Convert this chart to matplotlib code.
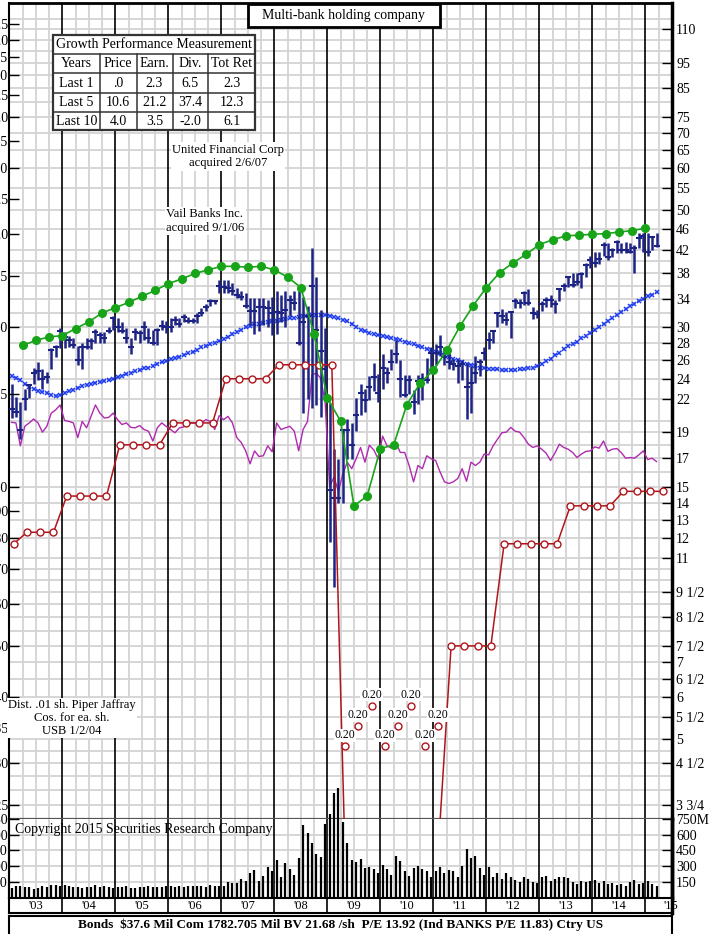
import numpy as np
import matplotlib
matplotlib.use('Agg')
import matplotlib.pyplot as plt
import matplotlib.transforms as mtransforms
from matplotlib.patches import Rectangle
from matplotlib.ticker import NullLocator

plt.rcParams['font.family'] = ['Liberation Serif', 'DejaVu Serif']

W, H, DPI = 722, 934, 100

# ---- monthly data, Jan 2003 .. Mar 2015 ----
price_hi = [23.5, 22.2, 21.7, 23.0, 23.5, 25.2, 25.8, 25.0, 24.7, 27.4, 27.8, 29.9,
            29.4, 28.9, 28.7, 27.7, 28.0, 28.6, 28.6, 29.8, 29.4, 29.4, 30.0, 31.6,
            31.2, 30.7, 29.9, 28.7, 29.9, 29.7, 30.9, 29.9, 29.7, 29.9, 31.0, 30.9,
            31.2, 31.6, 31.2, 31.8, 31.4, 31.2, 32.0, 32.6, 33.3, 34.0, 33.8, 36.9,
            36.9, 36.9, 36.4, 35.6, 35.1, 34.9, 34.1, 34.1, 34.1, 34.1, 33.8, 34.3,
            35.1, 34.6, 35.1, 34.6, 35.1, 35.1, 34.3, 33.0, 42.4, 37.4, 32.4, 29.9,
            21.6, 17.7, 16.9, 19.2, 20.1, 19.8, 22.1, 23.5, 23.0, 24.3, 25.7, 24.5,
            26.7, 25.3, 27.3, 28.4, 26.0, 24.4, 24.4, 22.9, 24.4, 24.6, 26.3, 27.5,
            27.9, 29.0, 27.6, 27.1, 26.2, 26.2, 26.0, 25.7, 25.4, 26.5, 26.1, 27.6,
            29.4, 29.7, 32.1, 32.5, 32.1, 32.1, 34.1, 34.0, 35.1, 35.4, 32.8, 32.4,
            33.6, 34.3, 34.5, 33.8, 35.7, 36.4, 37.6, 38.0, 38.0, 38.2, 39.7, 41.0,
            41.7, 41.6, 43.6, 43.3, 42.4, 43.9, 43.3, 43.5, 43.3, 43.0, 45.2, 45.2,
            45.2, 44.4, 45.2]
price_lo = [20.2, 20.3, 18.5, 20.9, 22.1, 23.5, 23.9, 23.0, 23.6, 25.0, 26.4, 27.4,
            27.4, 27.5, 27.4, 25.5, 25.0, 27.3, 27.3, 28.0, 28.0, 28.1, 29.3, 29.7,
            29.4, 29.3, 28.1, 26.7, 28.4, 28.0, 28.4, 28.1, 27.8, 27.8, 29.7, 29.3,
            29.4, 30.3, 30.0, 30.7, 30.6, 30.6, 30.6, 31.6, 32.3, 33.0, 33.3, 34.9,
            34.9, 34.9, 34.6, 34.1, 33.8, 32.6, 30.3, 29.1, 29.6, 30.3, 30.0, 29.0,
            29.1, 30.7, 30.0, 31.5, 32.4, 27.8, 20.7, 22.0, 21.1, 21.4, 20.3, 21.9,
            11.8, 9.7, 14.0, 14.0, 16.9, 16.9, 19.1, 20.5, 20.8, 21.9, 22.8, 21.7,
            23.0, 23.6, 24.9, 25.7, 22.2, 22.2, 22.5, 20.6, 21.5, 21.9, 23.6, 25.0,
            25.5, 26.5, 25.5, 25.0, 24.9, 23.6, 23.9, 20.1, 20.7, 23.6, 24.3, 26.0,
            27.3, 28.1, 30.0, 30.6, 30.3, 28.6, 32.7, 32.6, 33.1, 33.1, 31.1, 31.3,
            32.2, 32.8, 32.8, 32.0, 33.6, 35.1, 35.8, 35.8, 36.1, 35.6, 37.4, 38.8,
            39.1, 39.6, 40.9, 40.3, 40.8, 41.5, 41.5, 41.5, 41.5, 38.0, 42.4, 41.7,
            40.9, 42.0, 42.6]
price_close = [21.0, 20.8, 19.2, 22.0, 23.4, 24.6, 24.8, 24.0, 24.2, 27.2, 27.6, 29.6,
               28.8, 28.4, 27.8, 26.0, 27.5, 27.6, 28.3, 29.4, 29.0, 28.7, 29.6, 31.3,
               30.0, 29.6, 28.6, 27.6, 29.4, 29.3, 30.0, 28.7, 28.1, 29.7, 30.2, 30.0,
               30.0, 31.0, 30.5, 31.4, 30.9, 30.9, 31.5, 32.0, 32.8, 33.7, 33.6, 36.0,
               35.8, 35.6, 35.1, 34.6, 34.3, 32.9, 32.2, 32.2, 32.8, 32.8, 32.6, 32.0,
               32.1, 32.0, 32.4, 33.8, 33.4, 28.0, 30.7, 31.5, 36.0, 29.7, 27.1, 25.0,
               14.8, 14.3, 14.3, 19.2, 19.2, 18.0, 20.5, 22.6, 21.9, 23.2, 24.2, 22.6,
               25.1, 24.6, 25.8, 26.7, 24.0, 22.4, 23.9, 21.7, 23.8, 24.0, 23.9, 26.9,
               26.9, 27.5, 26.4, 25.8, 25.6, 25.4, 25.6, 23.2, 23.6, 24.6, 25.8, 26.9,
               28.4, 29.5, 32.0, 31.5, 31.0, 32.1, 33.6, 33.4, 34.9, 33.4, 32.0, 31.8,
               33.2, 33.8, 33.8, 33.2, 35.4, 36.0, 37.3, 36.1, 36.5, 37.8, 39.4, 40.2,
               39.8, 40.4, 43.0, 40.8, 42.0, 43.5, 42.0, 42.0, 41.7, 42.4, 44.2, 44.6,
               41.7, 44.4, 42.8]
volume = [90, 110, 115, 105, 100, 85, 95, 115, 105, 120, 125, 115,
          120, 110, 105, 100, 95, 100, 100, 120, 100, 110, 105, 95,
          105, 100, 115, 90, 95, 100, 100, 110, 100, 105, 100, 110,
          110, 100, 110, 105, 115, 110, 115, 110, 100, 120, 115, 110,
          110, 150, 140, 135, 180, 160, 230, 260, 160, 210, 290, 250,
          360, 200, 330, 270, 220, 380, 690, 620, 520, 420, 390, 700,
          800, 1000, 1050, 720, 520, 360, 340, 370, 280, 290, 270, 230,
          310, 270, 220, 400, 350, 250, 210, 280, 300, 270, 250, 200,
          250, 290, 230, 260, 250, 200, 300, 460, 380, 400, 280, 220,
          290, 200, 230, 180, 230, 200, 170, 150, 200, 180, 150, 140,
          200, 210, 160, 180, 200, 200, 190, 150, 130, 160, 150, 160,
          170, 140, 160, 130, 140, 120, 130, 110, 150, 170, 130, 140,
          160, 130, 110]
rel_strength = [19.85, 19.80, 17.92, 19.51, 19.80, 20.14, 19.80, 19.02, 19.51, 20.66, 20.96, 21.41,
                20.02, 19.93, 19.80, 18.57, 19.93, 19.38, 20.37, 21.41, 20.66, 20.23, 20.28, 20.66,
                20.08, 19.66, 19.80, 19.42, 19.38, 19.57, 19.24, 19.10, 18.30, 19.38, 19.80, 19.51,
                19.24, 18.97, 19.38, 19.46, 19.80, 19.80, 19.80, 19.85, 20.08, 19.93, 19.24, 20.43,
                20.08, 20.37, 19.80, 18.57, 18.18, 17.53, 16.57, 17.53, 17.11, 17.16, 17.92, 17.46,
                19.80, 19.24, 19.38, 19.51, 19.10, 17.53, 19.24, 19.93, 24.41, 24.58, 24.05, 21.57,
                15.00, 15.64, 14.68, 15.87, 16.69, 16.22, 16.93, 17.79, 16.69, 17.97, 17.60, 16.93,
                18.69, 17.92, 17.74, 18.18, 17.41, 17.41, 16.45, 15.32, 16.45, 16.22, 17.16, 16.93,
                16.81, 15.99, 15.32, 15.21, 15.32, 15.54, 16.22, 15.36, 16.69, 16.45, 16.69, 17.29,
                17.23, 17.92, 18.43, 18.97, 19.02, 19.42, 19.10, 19.02, 18.57, 18.05, 17.79, 17.92,
                17.66, 17.36, 16.81, 17.36, 18.05, 17.79, 17.66, 17.41, 17.03, 17.29, 17.49, 17.53,
                17.84, 17.74, 18.30, 17.49, 17.66, 17.71, 17.41, 16.98, 17.03, 16.98, 17.23, 17.53,
                16.88, 16.98, 16.74]
moving_avg = [24.3, 24.1, 23.9, 23.5, 23.2, 23.0, 22.8, 22.7, 22.6, 22.4, 22.3, 22.4,
              22.6, 22.8, 22.9, 23.1, 23.3, 23.4, 23.5, 23.6, 23.7, 23.8, 23.9, 24.0,
              24.2, 24.3, 24.5, 24.6, 24.8, 24.9, 25.1, 25.2, 25.4, 25.6, 25.8, 25.9,
              26.1, 26.3, 26.4, 26.6, 26.8, 27.0, 27.2, 27.5, 27.7, 27.9, 28.1, 28.3,
              28.5, 28.8, 29.1, 29.4, 29.7, 30.0, 30.2, 30.4, 30.5, 30.6, 30.7, 30.9,
              30.9, 31.0, 31.1, 31.2, 31.3, 31.4, 31.5, 31.6, 31.7, 31.7, 31.7, 31.7,
              31.6, 31.4, 31.2, 31.0, 30.8, 30.4, 30.1, 29.7, 29.5, 29.3, 29.1, 29.0,
              28.9, 28.8, 28.7, 28.5, 28.4, 28.2, 28.0, 27.9, 27.7, 27.5, 27.3, 27.2,
              27.0, 26.8, 26.6, 26.4, 26.2, 26.0, 25.8, 25.6, 25.5, 25.4, 25.2, 25.1,
              25.0, 25.0, 25.0, 24.9, 24.9, 24.9, 24.9, 25.0, 25.0, 25.1, 25.2, 25.4,
              25.6, 25.9, 26.2, 26.6, 26.9, 27.3, 27.7, 27.9, 28.2, 28.6, 28.9, 29.3,
              29.7, 30.1, 30.5, 30.9, 31.3, 31.7, 32.1, 32.5, 32.9, 33.3, 33.7, 34.0,
              34.4, 34.6, 35.0]

# ---- quarterly earnings (left scale), from Apr 2003 ----
eps = [1.85, 1.89, 1.92, 1.93, 1.99, 2.05, 2.13, 2.18, 2.23, 2.29, 2.35, 2.42,
       2.47, 2.53, 2.57, 2.61, 2.61, 2.60, 2.61, 2.57, 2.49, 2.38, 1.94, 1.47,
       1.33, 0.92, 0.96, 1.18, 1.20, 1.43, 1.57, 1.66, 1.81, 2.01, 2.20, 2.38,
       2.54, 2.65, 2.75, 2.87, 2.93, 2.98, 2.99, 3.00, 3.01, 3.03, 3.05, 3.08]
# ---- annual dividend rate (left scale), quarterly from Feb 2003 ----
dividend = [0.78, 0.82, 0.82, 0.82, 0.96, 0.96, 0.96, 0.96, 1.20, 1.20, 1.20, 1.20,
            1.32, 1.32, 1.32, 1.32, 1.60, 1.60, 1.60, 1.60, 1.70, 1.70, 1.70, 1.70,
            1.70, 0.20, 0.20, 0.20, 0.20, 0.20, 0.20, 0.20, 0.20, 0.50, 0.50, 0.50,
            0.50, 0.78, 0.78, 0.78, 0.78, 0.78, 0.92, 0.92, 0.92, 0.92, 0.98, 0.98,
            0.98, 0.98]

right_vals = [110, 95, 85, 75, 70, 65, 60, 55, 50, 46, 42, 38, 34, 30, 28, 26, 24, 22,
              19, 17, 15, 14, 13, 12, 11, 9.5, 8.5, 7.5, 7, 6.5, 6, 5.5, 5, 4.5, 3.75]
right_labels = ['110', '95', '85', '75', '70', '65', '60', '55', '50', '46', '42', '38',
                '34', '30', '28', '26', '24', '22', '19', '17', '15', '14', '13', '12',
                '11', '9 1/2', '8 1/2', '7 1/2', '7', '6 1/2', '6', '5 1/2', '5',
                '4 1/2', '3 3/4']
left_vals = [7.5, 7.0, 6.5, 6.0, 5.5, 5.0, 4.5, 4.0, 3.5, 3.0, 2.5, 2.0, 1.5, 1.0,
             0.9, 0.8, 0.7, 0.6, 0.5, 0.4, 0.35, 0.3, 0.25]
left_labels = ['7.5', '7.0', '6.5', '6.0', '5.5', '5.0', '4.5', '4.0', '3.5', '3.0',
               '2.5', '2.0', '1.5', '1.0', '.90', '.80', '.70', '.60', '.50', '.40',
               '.35', '.30', '.25']
grid_vals = [115, 110, 105, 100, 95, 90, 85, 80, 75, 70, 65, 60, 55, 50, 46, 42, 40,
             38, 36, 34, 32, 30, 28, 26, 24, 22, 20, 19, 18, 17, 16, 15, 14, 13, 12,
             11, 10.5, 10, 9.5, 9, 8.5, 8, 7.5, 7, 6.5, 6, 5.5, 5, 4.75, 4.5, 4.25,
             4, 3.75]
vol_vals = [150, 300, 450, 600, 750]
year_labels = ["'03", "'04", "'05", "'06", "'07", "'08", "'09", "'10", "'11", "'12",
               "'13", "'14", "'15"]
perf_rows = [['Years', 'Price', 'Earn.', 'Div.', 'Tot Ret'],
             ['Last 1', '.0', '2.3', '6.5', '2.3'],
             ['Last 5', '10.6', '21.2', '37.4', '12.3'],
             ['Last 10', '4.0', '3.5', '-2.0', '6.1']]

PRICE_LO, PRICE_HI, PE = 3.53, 123.2, 15.0
X0, X1 = 2003.0, 2015.5

NAVY = '#1c2384'
GREEN = '#18a418'
BLUE = '#1f3cf0'
MAGENTA = '#b02ab0'
RED = '#b0151a'
GRID = '#d3d3d3'


def rect(x0, y0, x1, y1):
    return [x0 / W, 1 - y1 / H, (x1 - x0) / W, (y1 - y0) / H]


def px(x, y):
    return x / W, 1 - y / H


xm = X0 + (np.arange(len(price_hi)) + 0.5) / 12
xq = X0 + 0.25 * (np.arange(len(eps)) + 1)
xd = X0 + 1 / 12 + 0.25 * np.arange(len(dividend))
years = np.arange(2004, 2016)
quarters = np.array([y + q for y in range(2003, 2016) for q in (0.25, 0.5, 0.75)])

fig = plt.figure(figsize=(W / DPI, H / DPI), dpi=DPI)

# ---------- price panel ----------
ax = fig.add_axes(rect(9.3, 3, 672, 819))
ax.set_yscale('log')
ax.set_xlim(X0, X1)
ax.set_ylim(PRICE_LO, PRICE_HI)
for g in grid_vals:
    ax.axhline(g, color=GRID, lw=1.3, zorder=0.5)
for q in quarters:
    ax.axvline(q, color=GRID, lw=1.3, zorder=0.5)
for y in years:
    ax.axvline(y, color='black', lw=1.2, zorder=0.6)

ax.plot(xm, rel_strength, color=MAGENTA, lw=1.0, zorder=2)
ax.plot(xm, moving_avg, color=BLUE, lw=0.8, ls=':', marker='x', ms=3.2, mew=1.1, zorder=2.2)
ax.vlines(xm, price_lo, price_hi, color=NAVY, lw=1.8, zorder=3)
ax.plot(xm, price_close, ls='none', marker='_', ms=5, mew=1.5, color=NAVY, zorder=3.1)

ax.set_xticks([])
ax.yaxis.tick_right()
ax.yaxis.set_minor_locator(NullLocator())
ax.set_yticks(right_vals)
ax.set_yticklabels(right_labels)
ax.tick_params(axis='y', direction='in', length=7, width=1, labelsize=10, pad=3,
               colors='black')
ax.spines['left'].set_linewidth(1.5)
ax.spines['right'].set_linewidth(2.5)
ax.spines['top'].set_linewidth(2.0)
ax.spines['bottom'].set_linewidth(1.6)
ax.spines['bottom'].set_color('#555555')

# ---------- earnings / dividend scale (left) ----------
axe = fig.add_axes(rect(9.3, 3, 672, 819), frameon=False)
axe.patch.set_visible(False)
axe.set_yscale('log')
axe.set_xlim(X0, X1)
axe.set_ylim(PRICE_LO / PE, PRICE_HI / PE)
axe.set_xticks([])
axe.yaxis.set_minor_locator(NullLocator())
axe.set_yticks(left_vals)
axe.set_yticklabels(left_labels)
axe.tick_params(axis='y', direction='in', length=7, width=1, labelsize=10, pad=1)

axe.plot(xd, dividend, color=RED, lw=1.1, zorder=3)
on_scale = np.array(dividend) > PRICE_LO / PE
axe.plot(xd[on_scale], np.array(dividend)[on_scale], ls='none', marker='o', ms=5,
         mfc='white', mec=RED, mew=1.0, zorder=3.2)
axe.plot(xq, eps, color=GREEN, lw=1.2, marker='o', ms=5.5, mfc=GREEN, mec=GREEN, zorder=4)

# off-scale dividends: staggered markers with value labels
trans = mtransforms.blended_transform_factory(axe.transData, axe.transAxes)
stagger = [0.089, 0.114, 0.139]
k = 0
for xv, dv in zip(xd, dividend):
    if dv >= PRICE_LO / PE:
        continue
    yl = stagger[k % 3]
    axe.plot([xv], [yl], transform=trans, marker='o', ms=5, mfc='white', mec=RED,
             mew=1.0, ls='none', zorder=5, clip_on=False)
    axe.text(xv, yl + 0.0135, '%.2f' % dv, transform=trans, ha='center', va='center',
             fontsize=8.5, zorder=5,
             bbox=dict(facecolor='white', edgecolor='none', pad=0.6))
    k += 1

# ---------- volume panel ----------
axv = fig.add_axes(rect(9.3, 819, 672, 897.6))
axv.set_xlim(X0, X1)
axv.set_ylim(0, 750)
for v in vol_vals[:-1]:
    axv.axhline(v, color=GRID, lw=1.3, zorder=0.5)
for q in quarters:
    axv.axvline(q, color=GRID, lw=1.3, zorder=0.5)
for y in years:
    axv.axvline(y, color='black', lw=1.2, zorder=0.6)
axv.vlines(xm, 0, volume, color='black', lw=1.6, zorder=3, clip_on=False)
axv.set_xticks([])
axv.set_yticks(vol_vals)
axv.set_yticklabels([str(v) for v in vol_vals])
axv.tick_params(axis='y', direction='in', length=7, width=1, labelsize=10, pad=1)
axv2 = axv.twinx()
axv2.set_ylim(0, 750)
axv2.set_yticks(vol_vals)
axv2.set_yticklabels([str(v) for v in vol_vals[:-1]] + ['750M'])
axv2.tick_params(axis='y', direction='in', length=7, width=1, labelsize=10, pad=3)
for a in (axv, axv2):
    a.spines['left'].set_linewidth(1.5)
    a.spines['right'].set_linewidth(2.5)
    a.spines['top'].set_visible(False)
    a.spines['bottom'].set_linewidth(2.0)
fig.text(*px(15, 830), 'Copyright 2015 Securities Research Company', fontsize=10,
         ha='left', va='center')

# ---------- year strip ----------
axy = fig.add_axes(rect(9.3, 897.6, 672, 913))
axy.set_xlim(X0, X1)
axy.set_ylim(0, 1)
axy.set_xticks([])
axy.set_yticks([])
for y in years:
    axy.axvline(y, color='black', lw=1.2)
for i, lab in enumerate(year_labels):
    xc = min(X0 + i + 0.5, X1 - 0.03)
    axy.text(xc, 0.45, lab, ha='center', va='center', fontsize=9, clip_on=False,
             zorder=5)
for s in axy.spines.values():
    s.set_linewidth(1.5)
axy.spines['right'].set_linewidth(2.5)

# ---------- bottom info box ----------
axb = fig.add_axes(rect(9.3, 916, 672, 936))
axb.set_xticks([])
axb.set_yticks([])
for s in axb.spines.values():
    s.set_linewidth(1.5)
axb.text(0.5, 0.55, 'Bonds  \\$37.6 Mil Com 1782.705 Mil BV 21.68 /sh  P/E 13.92 '
         '(Ind BANKS P/E 11.83) Ctry US', transform=axb.transAxes, ha='center',
         va='center', fontsize=9.5, fontweight='bold')

# ---------- title box ----------
fig.add_artist(Rectangle(px(247.5, 27)[:2], 192.5 / W, 23 / H, transform=fig.transFigure,
                         facecolor='white', edgecolor='black', lw=2, zorder=6))
fig.text(*px(343.5, 15.5), 'Multi-bank holding company', ha='center', va='center',
         fontsize=10, zorder=7)

# ---------- growth performance table ----------
col_edges = [53, 100, 136.5, 172.5, 208, 255]
row_edges = [34.5, 53.5, 73, 92.5, 111.5, 130]
fig.add_artist(Rectangle(px(col_edges[0], row_edges[-1]), (col_edges[-1] - col_edges[0]) / W,
                         (row_edges[-1] - row_edges[0]) / H, transform=fig.transFigure,
                         facecolor='white', edgecolor='#333333', lw=1.6, zorder=6))
for yy in row_edges[1:-1]:
    fig.add_artist(plt.Line2D([col_edges[0] / W, col_edges[-1] / W], [1 - yy / H] * 2,
                              transform=fig.transFigure, color='#333333', lw=1.1, zorder=7))
for xx in col_edges[1:-1]:
    fig.add_artist(plt.Line2D([xx / W] * 2, [1 - row_edges[1] / H, 1 - row_edges[-1] / H],
                              transform=fig.transFigure, color='#333333', lw=1.1, zorder=7))
fig.text(*px((col_edges[0] + col_edges[-1]) / 2, (row_edges[0] + row_edges[1]) / 2 + 0.5),
         'Growth Performance Measurement', ha='center', va='center', fontsize=10, zorder=8)
for r, row in enumerate(perf_rows):
    yc = (row_edges[r + 1] + row_edges[r + 2]) / 2 + 0.5
    for c, cell in enumerate(row):
        xc = (col_edges[c] + col_edges[c + 1]) / 2
        fig.text(*px(xc, yc), cell, ha='center', va='center', fontsize=10, zorder=8)

# ---------- notes ----------
note_box = dict(facecolor='white', edgecolor='none', pad=1.0)
fig.text(*px(228, 156.5), 'United Financial Corp\nacquired 2/6/07', ha='center',
         va='center', fontsize=9, linespacing=1.15, bbox=note_box, zorder=6)
fig.text(*px(205, 221), 'Vail Banks Inc.\nacquired 9/1/06', ha='center',
         va='center', fontsize=9, linespacing=1.15, bbox=note_box, zorder=6)
fig.text(*px(72, 718), 'Dist. .01 sh. Piper Jaffray\nCos. for ea. sh.\nUSB 1/2/04',
         ha='center', va='center', fontsize=9, linespacing=1.1, bbox=note_box, zorder=6)

fig.savefig('out.png', dpi=DPI)
